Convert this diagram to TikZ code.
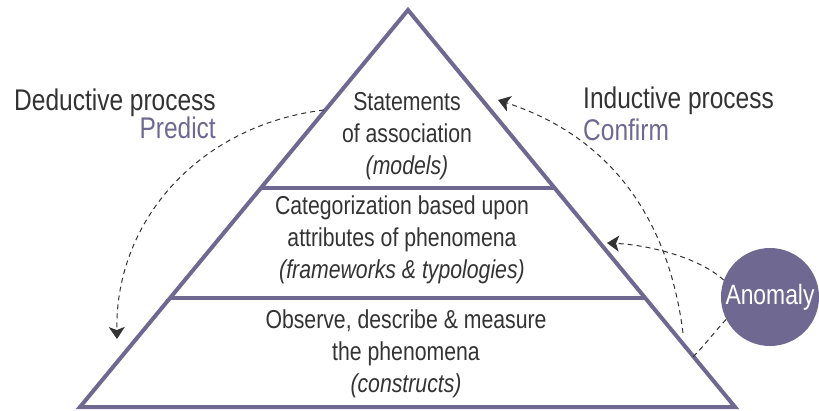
\documentclass[tikz,border=0pt]{standalone}
\usepackage{fontspec}
\setmainfont[FakeStretch=0.82]{Liberation Sans}
\usetikzlibrary{calc,arrows.meta}
\definecolor{pyr}{RGB}{111,105,145}
\definecolor{ink}{RGB}{51,51,51}
\tikzset{
  tier/.style={align=center, text=ink, font=\fontsize{26}{32}\selectfont},
  head/.style={text=ink, font=\fontsize{30}{34}\selectfont, inner sep=0pt},
  flow/.style={dashed, ink, line width=1bp, dash pattern=on 5bp off 4bp},
  tip/.style={-{Stealth[length=12bp,width=16bp,inset=3bp]}},
}
\begin{document}
\begin{tikzpicture}[x=1bp,y=-1bp]
  \useasboundingbox (0,0) rectangle (819,410);
  % pyramid
  \coordinate (top) at (408,10);
  \coordinate (bl) at (80,407);
  \coordinate (br) at (735,407);
  \draw[pyr, line width=4bp, line join=miter] (top)--(br)--(bl)--cycle;
  \coordinate (l1) at ($(top)!0.448!(bl)$);
  \coordinate (r1) at ($(top)!0.448!(br)$);
  \coordinate (l2) at ($(top)!0.725!(bl)$);
  \coordinate (r2) at ($(top)!0.725!(br)$);
  \draw[pyr, line width=4bp] (l1)--(r1);
  \draw[pyr, line width=4bp] (l2)--(r2);
  % tiers
  \node[tier] (models) at (407,136) {Statements\\of association\\\textit{(models)}};
  \node[tier] (frames) at (402,240) {Categorization based upon\\attributes of phenomena\\\textit{(frameworks \& typologies)}};
  \node[tier] (constr) at (406,354) {Observe, describe \& measure\\the phenomena\\\textit{(constructs)}};
  % side labels
  \node[head, anchor=base east] (deduct) at (216,110) {Deductive process};
  \node[head, anchor=base east, text=pyr] (predict) at (216,138) {Predict};
  \node[head, anchor=base west] (induct) at (583,108) {Inductive process};
  \node[head, anchor=base west, text=pyr] (confirm) at (583,140) {Confirm};
  \node[circle, fill=pyr, minimum size=98bp, inner sep=0pt, text=white,
        font=\fontsize{28}{30}\selectfont] (anom) at (770,297) {Anomaly};
  % dashed flows
  \coordinate (dstart) at (324,110);
  \coordinate (dend) at (117,339);
  \coordinate (istart) at (683,333);
  \coordinate (iend) at (498,100);
  \coordinate (mid) at (607,243);
  \coordinate (low) at (693,357);
  \draw[flow, tip] (dstart) .. controls (200,125) and (115,220) .. (dend);
  \draw[flow, tip] (istart) .. controls (670,230) and (620,140) .. (iend);
  \draw[flow, tip] (anom.160) .. controls (700,258) and (650,245) .. (mid);
  \draw[flow] (anom.207) .. controls (712,335) and (702,348) .. (low);
\end{tikzpicture}
\end{document}
